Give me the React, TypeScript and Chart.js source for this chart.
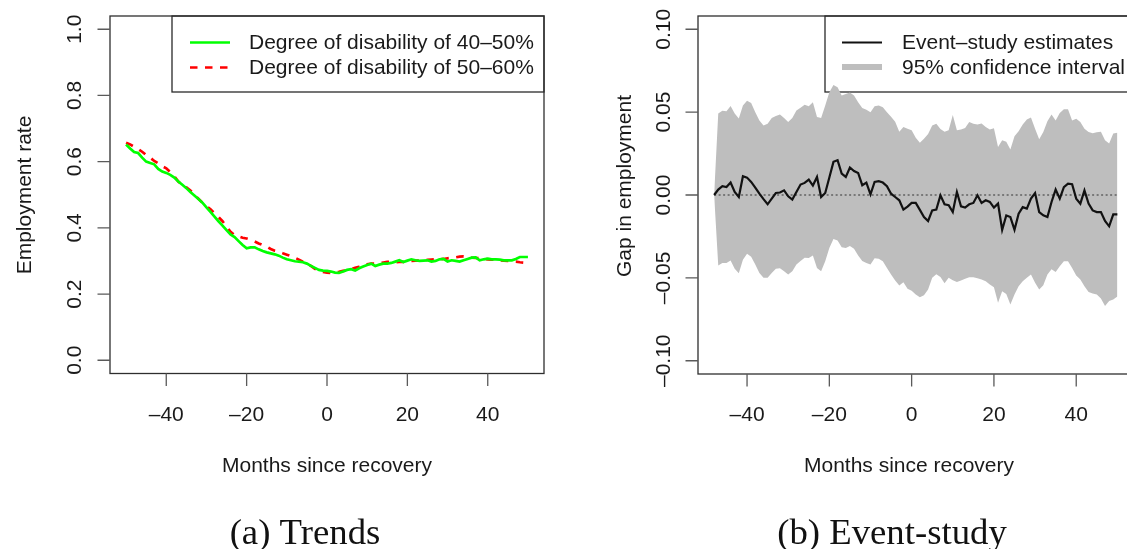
import React, { useEffect, useRef } from "react";
import { Chart, registerables } from "chart.js";
Chart.register(...registerables);

// ---------- data ----------
const trendMonths = [
  -50, -49, -48, -47, -46, -45, -44, -43, -42, -41,
  -40, -39, -38, -37, -36, -35, -34, -33, -32, -31,
  -30, -29, -28, -27, -26, -25, -24, -23, -22, -21,
  -20, -19, -18, -17, -16, -15, -14, -13, -12, -11,
  -10, -9, -8, -7, -6, -5, -4, -3, -2, -1,
  0, 1, 2, 3, 4, 5, 6, 7, 8, 9,
  10, 11, 12, 13, 14, 15, 16, 17, 18, 19,
  20, 21, 22, 23, 24, 25, 26, 27, 28, 29,
  30, 31, 32, 33, 34, 35, 36, 37, 38, 39,
  40, 41, 42, 43, 44, 45, 46, 47, 48, 49, 50,
];
const rate4050 = [
  0.652, 0.64, 0.629, 0.626, 0.612, 0.6, 0.596, 0.592, 0.578, 0.57,
  0.566, 0.56, 0.552, 0.54, 0.53, 0.52, 0.508, 0.498, 0.487, 0.476,
  0.462, 0.448, 0.434, 0.42, 0.407, 0.393, 0.38, 0.372, 0.36, 0.348,
  0.338, 0.341, 0.341, 0.335, 0.33, 0.326, 0.323, 0.32, 0.316, 0.31,
  0.305, 0.302, 0.299, 0.298, 0.296, 0.292, 0.285, 0.279, 0.273, 0.271,
  0.27, 0.268, 0.265, 0.264, 0.268, 0.273, 0.275, 0.271, 0.278, 0.283,
  0.288, 0.292, 0.285, 0.289, 0.292, 0.292, 0.294, 0.298, 0.302, 0.297,
  0.301, 0.305, 0.302, 0.3, 0.301, 0.302, 0.298, 0.3, 0.305, 0.306,
  0.298, 0.302, 0.3, 0.298, 0.302, 0.306, 0.31, 0.311, 0.302, 0.305,
  0.307, 0.305, 0.305, 0.304, 0.302, 0.302, 0.302, 0.306, 0.312, 0.312, 0.312,
];
const rate5060 = [
  0.657, 0.652, 0.645, 0.638, 0.63, 0.62, 0.612, 0.602, 0.595, 0.586,
  0.58, 0.568, 0.556, 0.54, 0.53, 0.522, 0.513, 0.5, 0.488, 0.476,
  0.466, 0.456, 0.444, 0.433, 0.42, 0.404, 0.388, 0.378, 0.374, 0.37,
  0.368, 0.364, 0.359, 0.353, 0.348, 0.343, 0.336, 0.331, 0.328, 0.323,
  0.319, 0.315, 0.31, 0.304, 0.298, 0.292, 0.285, 0.276, 0.27, 0.267,
  0.265, 0.264, 0.265, 0.267, 0.27, 0.272, 0.275, 0.279, 0.282, 0.285,
  0.29, 0.292, 0.292, 0.293, 0.295, 0.297, 0.297, 0.296, 0.297, 0.297,
  0.298, 0.3, 0.301, 0.301, 0.302, 0.303, 0.304, 0.305, 0.305, 0.306,
  0.308, 0.309, 0.311, 0.313, 0.314, 0.312, 0.31, 0.309, 0.308, 0.306,
  0.305, 0.304, 0.304, 0.302, 0.301, 0.3, 0.299, 0.298, 0.296, 0.295, 0.297,
];

const eventMonths = [
  -48, -47, -46, -45, -44, -43, -42, -41, -40, -39,
  -38, -37, -36, -35, -34, -33, -32, -31, -30, -29,
  -28, -27, -26, -25, -24, -23, -22, -21, -20, -19,
  -18, -17, -16, -15, -14, -13, -12, -11, -10, -9,
  -8, -7, -6, -5, -4, -3, -2, -1, 0, 1,
  2, 3, 4, 5, 6, 7, 8, 9, 10, 11,
  12, 13, 14, 15, 16, 17, 18, 19, 20, 21,
  22, 23, 24, 25, 26, 27, 28, 29, 30, 31,
  32, 33, 34, 35, 36, 37, 38, 39, 40, 41,
  42, 43, 44, 45, 46, 47, 48, 49, 50,
];
const estimates = [
  0.0, 0.0033, 0.0053, 0.0048, 0.0075, 0.0018, -0.0012, 0.0113, 0.0105, 0.0079,
  0.0045, 0.0008, -0.0025, -0.0056, -0.0022, 0.0012, 0.0015, 0.0028, -0.0008, -0.0028,
  0.0018, 0.0063, 0.0073, 0.0093, 0.0057, 0.0109, -0.0012, 0.0012, 0.0106, 0.02,
  0.021, 0.0129, 0.0109, 0.0166, 0.0145, 0.0133, 0.0059, 0.0075, 0.0004, 0.0079,
  0.0083, 0.0075, 0.0053, 0.0008, -0.0012, -0.0032, -0.0088, -0.007, -0.0048, -0.0048,
  -0.009, -0.0133, -0.0157, -0.0093, -0.0088, -0.0002, -0.0056, -0.0062, -0.0103, 0.0018,
  -0.0068, -0.0076, -0.0056, -0.0048, -0.0002, -0.0048, -0.0032, -0.0042, -0.0076, -0.0052,
  -0.021, -0.0123, -0.0133, -0.021, -0.0113, -0.0073, -0.0082, -0.0022, 0.0012, -0.0103,
  -0.0123, -0.0133, -0.0042, 0.0033, -0.0022, 0.0048, 0.0069, 0.0065, -0.0022, -0.0052,
  0.0028, -0.0052, -0.0093, -0.0103, -0.0103, -0.0157, -0.0189, -0.0117, -0.0117,
];
const ciUpper = [
  0.0, 0.0492, 0.0508, 0.0506, 0.0537, 0.0492, 0.0462, 0.054, 0.0569, 0.0555,
  0.05, 0.045, 0.042, 0.043, 0.0465, 0.0476, 0.0485, 0.0465, 0.044, 0.0465,
  0.051, 0.0527, 0.0545, 0.0535, 0.056, 0.047, 0.0465, 0.054, 0.062, 0.0664,
  0.065, 0.06, 0.061, 0.0618, 0.06, 0.056, 0.0525, 0.0515, 0.05, 0.0535,
  0.054, 0.053, 0.05, 0.0472, 0.0442, 0.0381, 0.0411, 0.04, 0.0391, 0.0345,
  0.0315, 0.034, 0.0368, 0.042, 0.043, 0.0398, 0.0382, 0.0391, 0.0482, 0.0391,
  0.0395, 0.0405, 0.044, 0.043, 0.0425, 0.0432, 0.0411, 0.0395, 0.0402, 0.029,
  0.033, 0.0321, 0.0275, 0.0355, 0.0385, 0.0425, 0.0455, 0.0468, 0.04, 0.0336,
  0.038, 0.0445, 0.0485, 0.045, 0.0495, 0.0518, 0.0518, 0.045, 0.046, 0.044,
  0.04, 0.038, 0.0373, 0.0378, 0.0381, 0.0331, 0.0311, 0.0371, 0.0375,
];
const ciLower = [
  0.0, -0.0425, -0.0411, -0.0411, -0.0395, -0.0445, -0.0472, -0.039, -0.0355, -0.0372,
  -0.042, -0.047, -0.05, -0.05, -0.047, -0.0445, -0.0442, -0.046, -0.048, -0.046,
  -0.042, -0.0398, -0.0378, -0.038, -0.0365, -0.044, -0.046, -0.04, -0.032, -0.0265,
  -0.0275, -0.0316, -0.032, -0.0308, -0.0325, -0.0365, -0.0398, -0.041, -0.042, -0.0382,
  -0.0385, -0.04, -0.044, -0.048, -0.0516, -0.0546, -0.0526, -0.0565, -0.0577, -0.06,
  -0.0617, -0.0605, -0.057, -0.05, -0.0478, -0.0495, -0.0532, -0.05, -0.0515, -0.0525,
  -0.0516, -0.0505, -0.0496, -0.0496, -0.0502, -0.051, -0.052, -0.054, -0.0556, -0.065,
  -0.058, -0.0597, -0.066, -0.06, -0.055, -0.052, -0.05, -0.048, -0.053, -0.057,
  -0.0545, -0.048, -0.0448, -0.0465, -0.043, -0.04, -0.04, -0.044, -0.0486, -0.051,
  -0.055, -0.0585, -0.0595, -0.06, -0.0625, -0.067, -0.064, -0.063, -0.0613,
];

const monthTicks = [-40, -20, 0, 20, 40];
const monthTickLabels = ["\u201340", "\u201320", "0", "20", "40"];
const rateTicks = [0, 0.2, 0.4, 0.6, 0.8, 1.0];
const rateTickLabels = ["0.0", "0.2", "0.4", "0.6", "0.8", "1.0"];
const gapTicks = [-0.1, -0.05, 0, 0.05, 0.1];
const gapTickLabels = ["\u20130.10", "\u20130.05", "0.00", "0.05", "0.10"];

// ---------- drawing helpers ----------
const W = 1127;
const H = 549;
const FONT = '21px "Liberation Sans", Arial, Helvetica, sans-serif';
const CAP_FONT = '35px "Liberation Serif", "Times New Roman", serif';
const TEXT = "#1a1a1a";

type Spec = {
  offsetX: number;
  xTicks: number[];
  xLabels: string[];
  yTicks: number[];
  yLabels: string[];
  yLabelX: number;
  yTitle: string;
  yTitleX: number;
  yTitleY: number;
  xTitle: string;
  xTitleX: number;
  caption: string;
  captionX: number;
  legend: {
    x1: number; y1: number; x2: number; y2: number;
    sx1: number; sx2: number; tx: number;
    items: { label: string; y: number; color: string; width: number; dash?: number[] }[];
  };
  zeroLine?: boolean;
};

function framePlugin(spec: Spec) {
  return {
    id: "rframe",
    beforeDatasetsDraw(chart: any) {
      const ctx = chart.ctx;
      const lg = spec.legend;
      ctx.save();
      ctx.translate(-spec.offsetX, 0);
      ctx.strokeStyle = "#2a2a2a";
      ctx.lineWidth = 1.3;
      ctx.strokeRect(lg.x1, lg.y1, lg.x2 - lg.x1, lg.y2 - lg.y1);
      lg.items.forEach((it) => {
        ctx.beginPath();
        ctx.strokeStyle = it.color;
        ctx.lineWidth = it.width;
        ctx.lineCap = "butt";
        ctx.setLineDash(it.dash || []);
        ctx.moveTo(lg.sx1, it.y);
        ctx.lineTo(lg.sx2, it.y);
        ctx.stroke();
        ctx.setLineDash([]);
        ctx.fillStyle = TEXT;
        ctx.font = FONT;
        ctx.textAlign = "left";
        ctx.textBaseline = "middle";
        ctx.fillText(it.label, lg.tx, it.y + 1);
      });
      ctx.restore();
    },
    beforeDatasetDraw(chart: any, args: any) {
      if (!spec.zeroLine || args.index !== 0) return;
      const ctx = chart.ctx;
      const xs = chart.scales.x;
      const ys = chart.scales.y;
      const xs0 = xs.getPixelForValue(eventMonths[0]);
      const xs1 = xs.getPixelForValue(eventMonths[eventMonths.length - 1]);
      const y0 = ys.getPixelForValue(0);
      ctx.save();
      ctx.strokeStyle = "#333";
      ctx.lineWidth = 1.1;
      ctx.setLineDash([2, 2.5]);
      ctx.beginPath();
      ctx.moveTo(xs0, y0);
      ctx.lineTo(xs1, y0);
      ctx.stroke();
      ctx.restore();
    },
    afterDraw(chart: any) {
      const ctx = chart.ctx;
      const a = chart.chartArea;
      const xs = chart.scales.x;
      const ys = chart.scales.y;
      ctx.save();
      // box
      ctx.strokeStyle = "#2e2e2e";
      ctx.lineWidth = 1.3;
      ctx.strokeRect(a.left, a.top, a.right - a.left, a.bottom - a.top);
      // ticks
      ctx.strokeStyle = "#5a5a5a";
      ctx.lineWidth = 1.3;
      ctx.beginPath();
      spec.xTicks.forEach((v) => {
        const px = xs.getPixelForValue(v);
        ctx.moveTo(px, a.bottom);
        ctx.lineTo(px, a.bottom + 12.5);
      });
      spec.yTicks.forEach((v) => {
        const py = ys.getPixelForValue(v);
        ctx.moveTo(a.left, py);
        ctx.lineTo(a.left - 12.5, py);
      });
      ctx.stroke();
      // labels
      ctx.fillStyle = TEXT;
      ctx.font = FONT;
      ctx.textBaseline = "alphabetic";
      ctx.textAlign = "center";
      spec.xTicks.forEach((v, i) => {
        ctx.fillText(spec.xLabels[i], xs.getPixelForValue(v), 420.5);
      });
      ctx.fillText(spec.xTitle, spec.xTitleX - spec.offsetX, 471.5);
      spec.yTicks.forEach((v, i) => {
        ctx.save();
        ctx.translate(spec.yLabelX - spec.offsetX, ys.getPixelForValue(v));
        ctx.rotate(-Math.PI / 2);
        ctx.fillText(spec.yLabels[i], 0, 0);
        ctx.restore();
      });
      ctx.save();
      ctx.translate(spec.yTitleX - spec.offsetX, spec.yTitleY);
      ctx.rotate(-Math.PI / 2);
      ctx.fillText(spec.yTitle, 0, 0);
      ctx.restore();
      // caption (slightly widened serif, like Computer Modern)
      ctx.save();
      ctx.font = CAP_FONT;
      ctx.fillStyle = "#111";
      ctx.translate(spec.captionX - spec.offsetX, 544);
      ctx.scale(1.05, 1);
      ctx.fillText(spec.caption, 0, 0);
      ctx.restore();
      ctx.restore();
    },
  };
}

const LEFT_CANVAS = { x: 0, w: 563 };
const RIGHT_CANVAS = { x: 563, w: 590 };

export default function App() {
  const leftRef = useRef<HTMLCanvasElement | null>(null);
  const rightRef = useRef<HTMLCanvasElement | null>(null);

  useEffect(() => {
    const label4050 = "Degree of disability of 40\u201350%";
    const label5060 = "Degree of disability of 50\u201360%";
    const leftSpec: Spec = {
      offsetX: LEFT_CANVAS.x,
      xTicks: monthTicks,
      xLabels: monthTickLabels,
      yTicks: rateTicks,
      yLabels: rateTickLabels,
      yLabelX: 80.5,
      yTitle: "Employment rate",
      yTitleX: 30.5,
      yTitleY: 195,
      xTitle: "Months since recovery",
      xTitleX: 327,
      caption: "(a) Trends",
      captionX: 305,
      legend: {
        x1: 172, y1: 16, x2: 544, y2: 92, sx1: 190, sx2: 230, tx: 249,
        items: [
          { label: label4050, y: 42.5, color: "#00ff00", width: 2.7 },
          { label: label5060, y: 67.5, color: "#ff0000", width: 2.7, dash: [7.5, 7.5] },
        ],
      },
    };
    const left = new Chart(leftRef.current as HTMLCanvasElement, {
      type: "line",
      data: {
        datasets: [
          {
            label: label4050,
            data: trendMonths.map((m, i) => ({ x: m, y: rate4050[i] })),
            borderColor: "#00ff00",
            borderWidth: 2.7,
            pointRadius: 0,
            tension: 0,
            fill: false,
          },
          {
            label: label5060,
            data: trendMonths.map((m, i) => ({ x: m, y: rate5060[i] })),
            borderColor: "#ff0000",
            borderWidth: 2.7,
            borderDash: [7.5, 7.5],
            pointRadius: 0,
            tension: 0,
            fill: false,
          },
        ],
      },
      options: {
        responsive: false,
        animation: false,
        events: [],
        layout: { padding: { left: 110, right: LEFT_CANVAS.w - 544, top: 16, bottom: H - 373.5 } },
        scales: {
          x: { type: "linear", min: -54, max: 54, display: false },
          y: { type: "linear", min: -0.04, max: 1.04, display: false },
        },
        plugins: { legend: { display: false }, tooltip: { enabled: false } },
      },
      plugins: [framePlugin(leftSpec)],
    } as any);

    const rightSpec: Spec = {
      offsetX: RIGHT_CANVAS.x,
      xTicks: monthTicks,
      xLabels: monthTickLabels,
      yTicks: gapTicks,
      yLabels: gapTickLabels,
      yLabelX: 670,
      yTitle: "Gap in employment",
      yTitleX: 630.5,
      yTitleY: 186,
      xTitle: "Months since recovery",
      xTitleX: 909,
      caption: "(b) Event-study",
      captionX: 892,
      zeroLine: true,
      legend: {
        x1: 825, y1: 16, x2: 1137, y2: 92, sx1: 842, sx2: 882, tx: 902,
        items: [
          { label: "Event\u2013study estimates", y: 42.5, color: "#111111", width: 2.2 },
          { label: "95% confidence interval", y: 67, color: "#bebebe", width: 6 },
        ],
      },
    };
    const rightArea = { left: 698, right: 1133.5 };
    const right = new Chart(rightRef.current as HTMLCanvasElement, {
      type: "line",
      data: {
        datasets: [
          {
            label: "Event\u2013study estimates",
            data: eventMonths.map((m, i) => ({ x: m, y: estimates[i] })),
            borderColor: "#111111",
            borderWidth: 2.2,
            pointRadius: 0,
            tension: 0,
            fill: false,
            order: 0,
          },
          {
            label: "lower",
            data: eventMonths.map((m, i) => ({ x: m, y: ciLower[i] })),
            borderWidth: 0,
            borderColor: "rgba(0,0,0,0)",
            pointRadius: 0,
            tension: 0,
            fill: false,
            order: 1,
          },
          {
            label: "95% confidence interval",
            data: eventMonths.map((m, i) => ({ x: m, y: ciUpper[i] })),
            borderWidth: 0,
            borderColor: "rgba(0,0,0,0)",
            backgroundColor: "#bebebe",
            pointRadius: 0,
            tension: 0,
            fill: 1,
            order: 1,
          },
        ],
      },
      options: {
        responsive: false,
        animation: false,
        events: [],
        layout: {
          padding: {
            left: rightArea.left - RIGHT_CANVAS.x,
            right: RIGHT_CANVAS.x + RIGHT_CANVAS.w - rightArea.right,
            top: 16,
            bottom: H - 374,
          },
        },
        scales: {
          x: { type: "linear", min: -51.92, max: 53.92, display: false },
          y: { type: "linear", min: -0.108, max: 0.108, display: false },
        },
        plugins: { legend: { display: false }, tooltip: { enabled: false } },
      },
      plugins: [framePlugin(rightSpec)],
    } as any);

    return () => {
      left.destroy();
      right.destroy();
    };
  }, []);

  return (
    <div
      style={{
        position: "absolute",
        left: 0,
        top: 0,
        width: W,
        height: H,
        overflow: "hidden",
        background: "#ffffff",
      }}
    >
      <canvas
        ref={leftRef}
        width={LEFT_CANVAS.w}
        height={H}
        style={{ position: "absolute", left: LEFT_CANVAS.x, top: 0, width: LEFT_CANVAS.w, height: H }}
      />
      <canvas
        ref={rightRef}
        width={RIGHT_CANVAS.w}
        height={H}
        style={{ position: "absolute", left: RIGHT_CANVAS.x, top: 0, width: RIGHT_CANVAS.w, height: H }}
      />
    </div>
  );
}
